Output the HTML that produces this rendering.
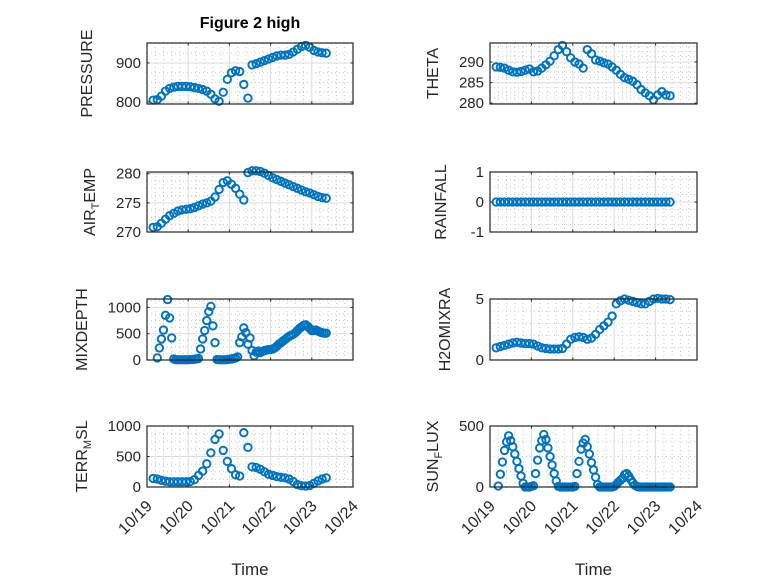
<!DOCTYPE html>
<html><head><meta charset="utf-8"><style>
html,body{margin:0;padding:0;background:#fff}
svg{display:block;font-family:"Liberation Sans","DejaVu Sans",sans-serif}
</style></head><body>
<svg id="fig" width="778" height="583" viewBox="0 0 778 583">
<rect width="778" height="583" fill="#fff"/>
<text x="250" y="28" text-anchor="middle" font-size="16" font-weight="bold" fill="#000">Figure 2 high</text>
</svg>
<script>
const dayLabels=["10/19","10/20","10/21","10/22","10/23","10/24"];
const tA=[0.15,0.25,0.35,0.45,0.55,0.65,0.75,0.85,0.95,1.05,1.15,1.25,1.35,1.45,1.55,1.65,1.75,1.85,1.95,2.05,2.15,2.25,2.35,2.45,2.55,2.65,2.75,2.85,2.95,3.05,3.15,3.25,3.35,3.45,3.55,3.65,3.75,3.85,3.95,4.05,4.15,4.25,4.35];
const pressure=[805,806,815,828,835,838,840,840,840,839,837,835,832,828,820,808,802,825,858,875,880,878,845,810,895,898,902,906,910,914,918,920,920,922,928,935,942,945,940,932,928,926,925];
const theta=[288.8,288.7,288.5,288,287.6,287.5,287.7,288,288.3,287.6,287.8,288.5,289.3,290.2,291.5,293,294,292.5,291,290,289.5,288.5,293,292,290.5,290.2,289.8,289.5,288.8,288,287,286.2,285.8,285.3,284.5,283.3,282.5,281.8,280.8,282,282.8,282,281.8];
const airTemp=[270.8,270.9,271.5,272.2,272.8,273.2,273.6,273.8,273.9,274,274.2,274.5,274.8,275,275.3,276,277.3,278.5,278.8,278.2,277.5,276.5,275.5,280.2,280.5,280.5,280.4,280.1,279.7,279.3,279,278.7,278.4,278.1,277.8,277.5,277.2,276.9,276.7,276.4,276.1,275.9,275.8];
const rainfall=[0,0,0,0,0,0,0,0,0,0,0,0,0,0,0,0,0,0,0,0,0,0,0,0,0,0,0,0,0,0,0,0,0,0,0,0,0,0,0,0,0,0,0];
const h2o=[1.0,1.1,1.2,1.3,1.4,1.45,1.4,1.35,1.35,1.3,1.15,1.0,0.95,0.9,0.9,0.9,0.95,1.3,1.7,1.85,1.9,1.85,1.7,1.8,2.1,2.5,2.8,3.1,3.6,4.6,4.85,5.0,4.9,4.8,4.7,4.6,4.6,4.8,5.0,5.05,5.0,5.0,4.95];
const terrMsl=[140,130,110,95,85,85,85,85,85,90,120,190,260,380,560,780,870,600,420,300,200,180,890,650,330,320,290,250,210,190,170,160,150,130,90,40,20,15,25,60,100,130,150];
const tMix=[0.25,0.30,0.35,0.40,0.45,0.50,0.55,0.60,0.65,0.70,0.75,0.80,0.85,0.90,0.95,1.00,1.05,1.10,1.15,1.20,1.25,1.30,1.35,1.40,1.45,1.50,1.55,1.60,1.65,1.70,1.75,1.80,1.85,1.90,1.95,2.00,2.05,2.10,2.15,2.20,2.25,2.30,2.35,2.40,2.45,2.50,2.55,2.60,2.65,2.70,2.75,2.80,2.85,2.90,2.95,3.00,3.05,3.10,3.15,3.20,3.25,3.30,3.35,3.40,3.45,3.50,3.55,3.60,3.65,3.70,3.75,3.80,3.85,3.90,3.95,4.00,4.05,4.10,4.15,4.20,4.25,4.30,4.35];
const mixDepth=[40,230,400,570,850,1150,800,420,20,5,5,5,5,5,5,5,10,10,15,20,30,210,400,560,750,920,1020,650,330,10,5,5,5,5,10,15,20,30,40,60,330,440,610,520,300,420,180,80,150,170,140,160,180,190,200,200,210,230,260,300,330,360,390,420,450,470,490,520,560,600,630,660,670,640,600,560,560,570,550,530,520,510,510];
const tSun=[0.20,0.25,0.30,0.35,0.40,0.45,0.50,0.55,0.60,0.65,0.70,0.75,0.80,0.85,0.90,0.95,1.00,1.05,1.10,1.15,1.20,1.25,1.30,1.35,1.40,1.45,1.50,1.55,1.60,1.65,1.70,1.75,1.80,1.85,1.90,1.95,2.00,2.05,2.10,2.15,2.20,2.25,2.30,2.35,2.40,2.45,2.50,2.55,2.60,2.65,2.70,2.75,2.80,2.85,2.90,2.95,3.00,3.05,3.10,3.15,3.20,3.25,3.30,3.35,3.40,3.45,3.50,3.55,3.60,3.65,3.70,3.75,3.80,3.85,3.90,3.95,4.00,4.05,4.10,4.15,4.20,4.25,4.30,4.35];
const sunFlux=[8,105,205,300,370,420,380,330,270,210,150,90,30,0,0,0,5,10,110,220,320,380,430,390,320,250,180,110,50,5,0,0,0,0,0,0,0,5,110,210,310,360,390,330,270,200,140,80,20,0,0,0,0,0,0,0,5,20,40,55,70,100,110,90,60,35,15,5,0,0,0,0,0,0,0,0,0,0,0,0,0,0,0,0];

const NS="http://www.w3.org/2000/svg";
const svg=document.getElementById('fig');
function mk(tag,attrs,parent){const e=document.createElementNS(NS,tag);for(const k in attrs)e.setAttribute(k,attrs[k]);(parent||svg).appendChild(e);return e;}

const panels=[
 {name:"pressure",x0:147,x1:353,y0:43,y1:104,ymin:795,ymax:951,ticks:[800,900],minor:25,t:tA,v:pressure,label:["PRESSURE"],bottom:false,lo:55},
 {name:"theta",x0:490,x1:697,y0:43,y1:104,ymin:279.8,ymax:294.6,ticks:[280,285,290],minor:1.25,t:tA,v:theta,label:["THETA"],bottom:false,lo:52},
 {name:"air-temp",x0:147,x1:353,y0:172,y1:232,ymin:270,ymax:280.3,ticks:[270,275,280],minor:1.25,t:tA,v:airTemp,label:["AIR","T","EMP"],bottom:false,lo:52},
 {name:"rainfall",x0:490,x1:697,y0:172,y1:232,ymin:-1,ymax:1,ticks:[-1,0,1],minor:0.25,t:tA,v:rainfall,label:["RAINFALL"],bottom:false,lo:44},
 {name:"mixdepth",x0:147,x1:353,y0:299,y1:360,ymin:0,ymax:1160,ticks:[0,500,1000],minor:125,t:tMix,v:mixDepth,label:["MIXDEPTH"],bottom:false,lo:60},
 {name:"h2omixra",x0:490,x1:697,y0:299,y1:360,ymin:0,ymax:5,ticks:[0,5],minor:1,t:tA,v:h2o,label:["H2OMIXRA"],bottom:false,lo:40},
 {name:"terr-msl",x0:147,x1:353,y0:426,y1:487,ymin:0,ymax:1000,ticks:[0,500,1000],minor:125,t:tA,v:terrMsl,label:["TERR","M","SL"],bottom:true,lo:60},
 {name:"sun-flux",x0:490,x1:697,y0:426,y1:487,ymin:0,ymax:500,ticks:[0,500],minor:125,t:tSun,v:sunFlux,label:["SUN","F","LUX"],bottom:true,lo:52}
];

panels.forEach(p=>{
 const g=mk('g',{});
 
 
 const xs=t=>p.x0+(p.x1-p.x0)*t/5;
 const ys=v=>p.y1-(p.y1-p.y0)*(v-p.ymin)/(p.ymax-p.ymin);
 for(let d=0.2;d<5;d+=0.2){ if(Math.abs(d-Math.round(d))<0.01)continue;
  mk('line',{x1:xs(d),x2:xs(d),y1:p.y0,y2:p.y1,stroke:"#c8c8c8","stroke-width":1,"stroke-dasharray":"1,3"},g);}
 const start=Math.ceil(p.ymin/p.minor)*p.minor;
 for(let v=start;v<=p.ymax;v+=p.minor){ if(p.ticks.some(t=>Math.abs(t-v)<1e-6))continue;
  mk('line',{x1:p.x0,x2:p.x1,y1:ys(v),y2:ys(v),stroke:"#c8c8c8","stroke-width":1,"stroke-dasharray":"1,3"},g);}
 for(let d=1;d<5;d++) mk('line',{x1:xs(d),x2:xs(d),y1:p.y0,y2:p.y1,stroke:"#dcdcdc","stroke-width":1},g);
 p.ticks.forEach(v=>{ mk('line',{x1:p.x0,x2:p.x1,y1:ys(v),y2:ys(v),stroke:"#dcdcdc","stroke-width":1},g);});
 const sg=mk('g',{fill:"none",stroke:"#0072BD","stroke-width":1.9},g);
 
 
 p.v.forEach((v,i)=>{
  const c=mk('circle',{cx:xs(p.t[i]).toFixed(2),cy:ys(v).toFixed(2),r:3.7},sg);
  
  
 });
 mk('rect',{x:p.x0,y:p.y0,width:p.x1-p.x0,height:p.y1-p.y0,fill:"none",stroke:"#262626","stroke-width":1.2},g);
 for(let d=0;d<=5;d++){
  mk('line',{x1:xs(d),x2:xs(d),y1:p.y1,y2:p.y1-2.5,stroke:"#262626"},g);
  mk('line',{x1:xs(d),x2:xs(d),y1:p.y0,y2:p.y0+2.5,stroke:"#262626"},g);
  if(p.bottom){
   const ax=xs(d)+6, ay=p.y1+20;
   const tx=mk('text',{x:ax,y:ay,"text-anchor":"end","font-size":16,fill:"#262626",transform:`rotate(-45 ${ax} ${ay})`},g);
   tx.textContent=dayLabels[d];
   
   
  }
 }
 p.ticks.forEach(v=>{
  mk('line',{x1:p.x0,x2:p.x0+2.5,y1:ys(v),y2:ys(v),stroke:"#262626"},g);
  mk('line',{x1:p.x1,x2:p.x1-2.5,y1:ys(v),y2:ys(v),stroke:"#262626"},g);
  const tx=mk('text',{x:p.x0-6,y:ys(v)+5,"text-anchor":"end","font-size":15,fill:"#262626"},g);
  tx.textContent=String(v);
  
  
 });
 const lx=p.x0-p.lo;
 const ly=(p.y0+p.y1)/2;
 const lt=mk('text',{x:lx,y:ly,"text-anchor":"middle","font-size":16,fill:"#262626",transform:`rotate(-90 ${lx} ${ly})`},g);
 
 
 if(p.label.length===1){lt.textContent=p.label[0];}
 else{
  const a=mk('tspan',{},lt);a.textContent=p.label[0];
  const b=mk('tspan',{"font-size":11,dy:4},lt);b.textContent=p.label[1];
  const c=mk('tspan',{dy:-4},lt);c.textContent=p.label[2];
 }
 if(p.bottom){
  const xt=mk('text',{x:(p.x0+p.x1)/2,y:575,"text-anchor":"middle","font-size":17,fill:"#262626"},g);
  xt.textContent="Time";
  
  
 }
});
</script>
</body></html>
